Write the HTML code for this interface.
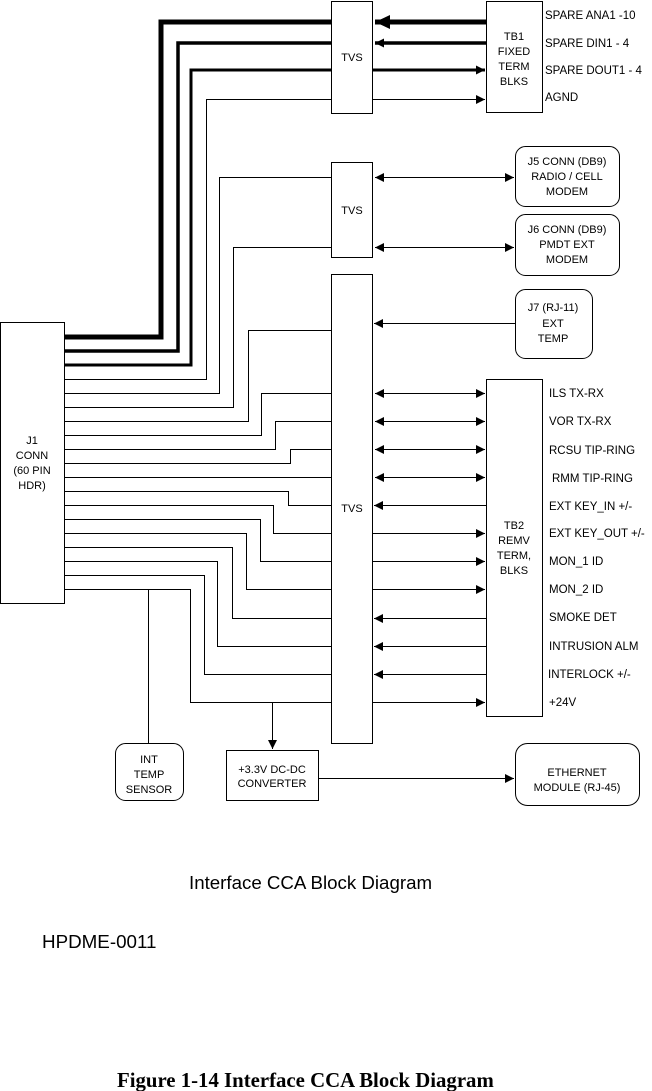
<!DOCTYPE html>
<html><head><meta charset="utf-8"><style>
html,body{margin:0;padding:0;background:#fff;}
svg{display:block;}
text{font-family:"Liberation Sans",Arial,sans-serif;font-size:11px;fill:#000;}
.r text{font-size:11.5px;}
</style></head><body>
<svg width="652" height="1091" viewBox="0 0 652 1091" xmlns="http://www.w3.org/2000/svg">
<defs>
<marker id="a" markerWidth="10" markerHeight="10" refX="9" refY="5" orient="auto" markerUnits="userSpaceOnUse"><path d="M0,0.5 L9,5 L0,9.5 Z" fill="#000"/></marker>
<marker id="as" markerWidth="10" markerHeight="10" refX="1" refY="5" orient="auto" markerUnits="userSpaceOnUse"><path d="M10,0.5 L1,5 L10,9.5 Z" fill="#000"/></marker>
<marker id="ab" markerWidth="16" markerHeight="16" refX="15" refY="8" orient="auto" markerUnits="userSpaceOnUse"><path d="M0,1 L15,8 L0,15 Z" fill="#000"/></marker>
</defs>
<g fill="none" stroke="#000" stroke-width="1">
<rect x="0.5" y="322.5" width="64" height="281"/>
<rect x="331.5" y="1.5" width="41" height="112"/>
<rect x="486.5" y="1.5" width="56" height="111"/>
<rect x="331.5" y="162.5" width="41" height="95"/>
<rect x="331.5" y="274.5" width="41" height="469"/>
<rect x="486.5" y="379.5" width="56" height="337"/>
<rect x="515.5" y="146.5" width="104" height="60" rx="10"/>
<rect x="515.5" y="214.5" width="104" height="61" rx="10"/>
<rect x="515.5" y="289.5" width="77" height="69" rx="10"/>
<rect x="115.5" y="743.5" width="68" height="57" rx="10"/>
<rect x="226.5" y="750.5" width="92" height="50"/>
<rect x="515.5" y="743.5" width="124" height="62" rx="12"/>
</g>
<g fill="none" stroke="#000">
<path d="M65,337 H161 V22 H331" stroke-width="5"/>
<path d="M486,22 H375" stroke-width="5" marker-end="url(#ab)"/>
<path d="M65,351 H178 V43 H331" stroke-width="3.5"/>
<path d="M486,43 H375" stroke-width="3.5" marker-end="url(#a)"/>
<path d="M65,365 H191 V70 H331" stroke-width="3"/>
<path d="M373,70 H485" stroke-width="3" marker-end="url(#a)"/>
</g>
<g fill="none" stroke="#000" stroke-width="1">
<path d="M65,379.5 H206.5 V99.5 H331"/>
<path d="M373,99.5 H485" marker-end="url(#a)"/>
<path d="M65,393.5 H219.5 V177.5 H331"/>
<path d="M65,407.5 H233.5 V247.5 H331"/>
<path d="M375,177.5 H514" marker-start="url(#as)" marker-end="url(#a)"/>
<path d="M375,247.5 H514" marker-start="url(#as)" marker-end="url(#a)"/>
<path d="M65,421.5 H248.5 V330.5 H331"/>
<path d="M515,323.5 H374" marker-end="url(#a)"/>
<path d="M65,435.5 H261.5 V393.5 H331"/>
<path d="M65,449.5 H275.5 V421.5 H331"/>
<path d="M65,463.5 H290.5 V449.5 H331"/>
<path d="M65,477.5 H331"/>
<path d="M65,491.5 H288.5 V505.5 H331"/>
<path d="M65,505.5 H273.5 V533.5 H331"/>
<path d="M65,519.5 H260.5 V561.5 H331"/>
<path d="M65,533.5 H246.5 V589.5 H331"/>
<path d="M65,547.5 H232.5 V618.5 H331"/>
<path d="M65,561.5 H217.5 V646.5 H331"/>
<path d="M65,575.5 H204.5 V674.5 H331"/>
<path d="M65,589.5 H190.5 V702.5 H331"/>
<path d="M148.5,589.5 V743"/>
<path d="M272.5,702.5 V749" marker-end="url(#a)"/>
<path d="M319,778.5 H514" marker-end="url(#a)"/>
<path d="M375,393.5 H485" marker-start="url(#as)" marker-end="url(#a)"/>
<path d="M375,421.5 H485" marker-start="url(#as)" marker-end="url(#a)"/>
<path d="M375,449.5 H485" marker-start="url(#as)" marker-end="url(#a)"/>
<path d="M375,477.5 H485" marker-start="url(#as)" marker-end="url(#a)"/>
<path d="M486,505.5 H374" marker-end="url(#a)"/>
<path d="M373,533.5 H485" marker-end="url(#a)"/>
<path d="M373,561.5 H485" marker-end="url(#a)"/>
<path d="M373,589.5 H485" marker-end="url(#a)"/>
<path d="M486,618.5 H374" marker-end="url(#a)"/>
<path d="M486,646.5 H374" marker-end="url(#a)"/>
<path d="M486,674.5 H374" marker-end="url(#a)"/>
<path d="M373,702.5 H485" marker-end="url(#a)"/>
</g>
<g text-anchor="middle">
<text x="352" y="61">TVS</text>
<text x="352" y="214">TVS</text>
<text x="352" y="512">TVS</text>
<text x="514" y="40">TB1</text><text x="514" y="55">FIXED</text><text x="514" y="70">TERM</text><text x="514" y="85">BLKS</text>
<text x="567" y="165">J5 CONN (DB9)</text><text x="567" y="180">RADIO / CELL</text><text x="567" y="195">MODEM</text>
<text x="567" y="233">J6 CONN (DB9)</text><text x="567" y="248">PMDT EXT</text><text x="567" y="263">MODEM</text>
<text x="553" y="311">J7 (RJ-11)</text><text x="553" y="327">EXT</text><text x="553" y="342">TEMP</text>
<text x="32" y="444">J1</text><text x="32" y="459">CONN</text><text x="32" y="474">(60 PIN</text><text x="32" y="489">HDR)</text>
<text x="514" y="529">TB2</text><text x="514" y="544">REMV</text><text x="514" y="559">TERM,</text><text x="514" y="574">BLKS</text>
<text x="149" y="763">INT</text><text x="149" y="778">TEMP</text><text x="149" y="793">SENSOR</text>
<text x="272" y="773">+3.3V DC-DC</text><text x="272" y="787">CONVERTER</text>
<text x="577" y="776">ETHERNET</text><text x="577" y="791">MODULE (RJ-45)</text>
</g>
<g class="r">
<text x="545" y="19">SPARE ANA1 -10</text>
<text x="545" y="47">SPARE DIN1 - 4</text>
<text x="545" y="74">SPARE DOUT1 - 4</text>
<text x="545" y="101">AGND</text>
<text x="549" y="397">ILS TX-RX</text>
<text x="549" y="425">VOR TX-RX</text>
<text x="549" y="454">RCSU TIP-RING</text>
<text x="552" y="482">RMM TIP-RING</text>
<text x="549" y="510">EXT KEY_IN +/-</text>
<text x="549" y="537">EXT KEY_OUT +/-</text>
<text x="549" y="565">MON_1 ID</text>
<text x="549" y="593">MON_2 ID</text>
<text x="549" y="621">SMOKE DET</text>
<text x="549" y="650">INTRUSION ALM</text>
<text x="548" y="678">INTERLOCK +/-</text>
<text x="549" y="706">+24V</text>
</g>
<text x="189" y="889" style="font-size:18.7px">Interface CCA Block Diagram</text>
<text x="42" y="948" style="font-size:18.8px">HPDME-0011</text>
<text x="117" y="1087" style="font-family:'Liberation Serif','Times New Roman',serif;font-size:20.8px;font-weight:bold">Figure 1-14 Interface CCA Block Diagram</text>
</svg>
</body></html>
